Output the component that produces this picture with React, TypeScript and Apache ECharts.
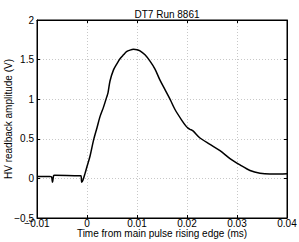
import React, { useEffect, useRef } from "react";
import * as echarts from "echarts";

const title = "DT7 Run 8861";
const xName = "Time from main pulse rising edge (ms)";
const yName = "HV readback amplitude (V)";

const timeMs = [
  -0.01, -0.0075, -0.0071, -0.0069, -0.0067, -0.0065, -0.0015, -0.0012,
  -0.00106, -0.0008, -0.0004, 0, 0.0006, 0.0013, 0.002, 0.0026, 0.0033,
  0.0039, 0.0042, 0.0046, 0.0053, 0.006, 0.0066, 0.0073, 0.0079, 0.0086,
  0.0093, 0.01, 0.0106, 0.0116, 0.0126, 0.0136, 0.0146, 0.0156, 0.0166,
  0.0176, 0.019, 0.0198, 0.0202, 0.0206, 0.0212, 0.0226, 0.0246, 0.0266,
  0.0286, 0.0306, 0.0326, 0.0346, 0.0366, 0.0386, 0.04,
];
const voltage = [
  0.025, 0.025, 0.02, -0.05, 0.03, 0.04, 0.035, 0.035,
  -0.05, -0.02, 0.06, 0.15, 0.28, 0.48, 0.64, 0.78, 0.9,
  1.02, 1.08, 1.23, 1.37, 1.45, 1.51, 1.56, 1.6, 1.62,
  1.63, 1.625, 1.61, 1.56, 1.48, 1.38, 1.24, 1.12, 1.0,
  0.87, 0.73, 0.66, 0.635, 0.62, 0.6, 0.51, 0.43, 0.35,
  0.25, 0.17, 0.1, 0.065, 0.055, 0.055, 0.06,
];

const xMin = -0.01, xMax = 0.04, xStep = 0.01;
const yMin = -0.5, yMax = 2, yStep = 0.5;

const fmt = (v: number) => {
  const r = Math.round(v * 10000) / 10000;
  return String(r).replace("-", "\u2212");
};

export default function App() {
  const ref = useRef<HTMLDivElement>(null);
  useEffect(() => {
    const chart = echarts.init(ref.current!, undefined, { renderer: "svg" });
    const font = "Liberation Sans, Arial, Helvetica, sans-serif";
    const fs = 10;
    const tick = { show: true, inside: true, length: 3, lineStyle: { color: "#000" } };
    const line = { show: true, onZero: false, lineStyle: { color: "#000" } };
    chart.setOption({
      animation: false,
      backgroundColor: "#fff",
      textStyle: { fontFamily: font },
      title: {
        text: title,
        left: 162,
        top: 4,
        textAlign: "center",
        textStyle: { fontSize: fs, fontWeight: "normal", color: "#000", fontFamily: font },
      },
      grid: {
        left: 37, right: 12, top: 20, bottom: 24,
        outerBoundsMode: "none",
        containLabel: false,
        show: true, borderColor: "#000", borderWidth: 1, backgroundColor: "#fff",
      },
      xAxis: [
        {
          type: "value", min: xMin, max: xMax, interval: xStep,
          name: xName, nameLocation: "middle", nameGap: 10, nameMoveOverlap: false,
          nameTextStyle: { fontSize: fs, color: "#000", fontFamily: font },
          axisLine: line,
          axisTick: tick,
          axisLabel: { fontSize: fs, color: "#000", margin: 0, formatter: fmt, fontFamily: font },
          splitLine: { show: true, lineStyle: { color: "#c8c8c8", type: [1, 2], width: 1 } },
        },
        {
          type: "value", min: xMin, max: xMax, interval: xStep, position: "top",
          axisLine: line,
          axisTick: tick, axisLabel: { show: false }, splitLine: { show: false },
        },
      ],
      yAxis: [
        {
          type: "value", min: yMin, max: yMax, interval: yStep,
          name: yName, nameLocation: "middle", nameGap: 24, nameMoveOverlap: false,
          nameTextStyle: { fontSize: fs, color: "#000", fontFamily: font },
          axisLine: line,
          axisTick: tick,
          axisLabel: { fontSize: fs, color: "#000", margin: 3, formatter: fmt, fontFamily: font },
          splitLine: { show: true, lineStyle: { color: "#c8c8c8", type: [1, 2], width: 1 } },
        },
        {
          type: "value", min: yMin, max: yMax, interval: yStep, position: "right",
          axisLine: line,
          axisTick: tick, axisLabel: { show: false }, splitLine: { show: false },
        },
      ],
      series: [
        {
          type: "line",
          xAxisIndex: 0,
          yAxisIndex: 0,
          data: timeMs.map((t, i) => [t, voltage[i]]),
          showSymbol: false,
          smooth: 0.3,
          lineStyle: { color: "#000", width: 1.5 },
        },
      ],
    });
    return () => chart.dispose();
  }, []);
  return (
    <div
      ref={ref}
      style={{ position: "fixed", left: 0, top: 0, width: 299, height: 242, background: "#fff" }}
    />
  );
}
